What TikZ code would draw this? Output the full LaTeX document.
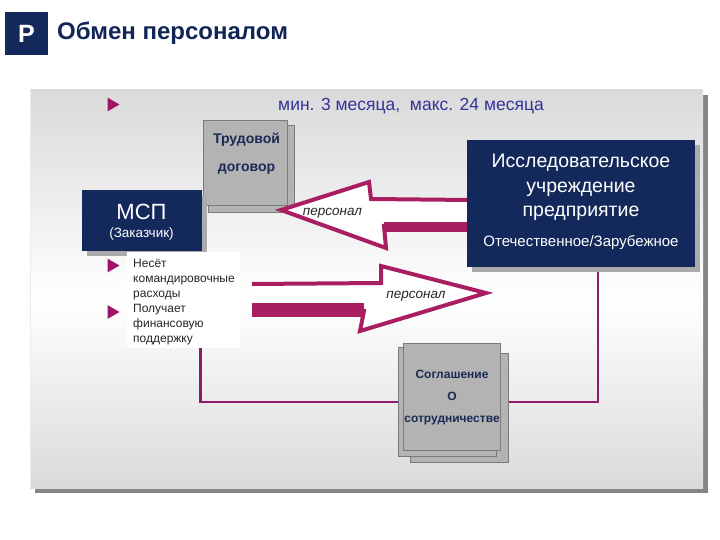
\documentclass[tikz,border=0pt]{standalone}
\usepackage{fontspec}
\setmainfont{Liberation Sans}
\usetikzlibrary{shapes.geometric, shadows, calc, positioning}
\pgfdeclarelayer{back}
\pgfdeclarelayer{links}
\pgfsetlayers{back,links,main}
\definecolor{swapnavy}{HTML}{13295B}
\definecolor{swaptitle}{HTML}{112556}
\definecolor{swapperiod}{HTML}{34339A}
\definecolor{swapmagenta}{HTML}{A81E60}
\definecolor{swapbullet}{HTML}{A01468}
\definecolor{swaplink}{HTML}{8E1A6E}
\definecolor{swapsheet}{HTML}{B3B3B3}
\definecolor{swapedge}{HTML}{7A7A7A}
\definecolor{swapdoctext}{HTML}{1B2A55}
\definecolor{swappanel}{HTML}{DADADA}
\definecolor{swapshadow}{HTML}{858585}
\definecolor{swapboxshadow}{HTML}{ABABAB}
\tikzset{navybox/.style={fill=swapnavy, inner sep=0pt, drop shadow={shadow xshift=5pt, shadow yshift=-5pt, fill=swapboxshadow, opacity=1}}}
\tikzset{sheet/.style={fill=swapsheet, draw=swapedge, line width=0.8pt, inner sep=0pt, anchor=north west}}
\tikzset{doctext/.style={anchor=base, inner sep=0pt, text=swapdoctext, font=\bfseries\fontsize{12}{12}\selectfont}}
\tikzset{whitetext/.style={anchor=base, inner sep=0pt, text=white}}
\tikzset{listtext/.style={anchor=base west, inner sep=0pt, text=black!85, font=\fontsize{12}{15}\selectfont}}
\tikzset{arrowlabel/.style={anchor=base, inner sep=0pt, text=black!85, font=\itshape\fontsize{13.5}{13.5}\selectfont}}
\tikzset{bulletmark/.style={regular polygon, regular polygon sides=3, shape border rotate=-90, fill=swapbullet, inner sep=0pt, minimum size=16pt}}
\tikzset{bigarrow/.style={draw=swapmagenta, fill=white, line width=4pt, line join=miter}}
\tikzset{linkline/.style={draw=swaplink, line width=2.2pt}}
\begin{document}
\begin{tikzpicture}[x=1pt, y=-1pt]
\useasboundingbox (0,0) rectangle (720,540);

\node[fill=swapnavy, text=white, minimum size=43pt, inner sep=0pt, font=\bfseries\fontsize{25}{25}\selectfont] (psq) at (26.5,33.5) {P};
\node[anchor=base west, inner sep=0pt, text=swaptitle, font=\bfseries\fontsize{24}{24}\selectfont] (title) at (57,39.5) {Обмен персоналом};

\begin{pgfonlayer}{back}
\fill[swapshadow] (35,95) rectangle (708,493);
\shade[top color=swappanel, bottom color=white] (30,90) rectangle (703,300);
\shade[top color=white, bottom color=swappanel] (30,299.5) rectangle (703,488);
\draw[white!92!black, line width=1pt] (30.5,90) -- (30.5,488);
\end{pgfonlayer}

\node[bulletmark] (b0) at (111.5,104.5) {};
\node[anchor=base, inner sep=0pt, text=swapperiod, font=\fontsize{17.5}{17.5}\selectfont] (period) at (411,111) {мин. 3 месяца, \ макс. 24 месяца};

\node[sheet, minimum width=86pt, minimum height=87pt] (workback) at (208,125) {};
\node[sheet, minimum width=84pt, minimum height=85pt] (work) at (203,120) {};
\node[doctext, font=\bfseries\fontsize{14}{14}\selectfont] (worktitle) at (246.5,144) {Трудовой};
\node[doctext, font=\bfseries\fontsize{14}{14}\selectfont] (workword) at (246.5,172) {договор};

\filldraw[bigarrow] (470,200) -- (371,199) -- (369,182) -- (281,210) -- (386,248) -- (384,226) -- (470,226);
\fill[swapmagenta] (384,222) rectangle (470,232);
\node[arrowlabel] (leftlabel) at (332.5,215) {персонал};

\filldraw[bigarrow] (252,284) -- (381,283) -- (381,266) -- (486,293) -- (360,331) -- (364,311) -- (252,311);
\fill[swapmagenta] (252,303) rectangle (364,317);
\node[arrowlabel] (rightlabel) at (416,298) {персонал};

\node[navybox, anchor=north west, minimum width=228pt, minimum height=127pt] (research) at (467,140) {};
\foreach \txt [count=\i] in {Исследовательское, учреждение, предприятие}
  \node[whitetext, font=\fontsize{19.5}{19.5}\selectfont] (res\i) at (581,{143.5+24.5*\i}) {\txt};
\node[whitetext, font=\fontsize{15}{15}\selectfont] (resorigin) at (581,246) {Отечественное/Зарубежное};

\node[navybox, anchor=north west, minimum width=120pt, minimum height=61pt] (msp) at (82,190) {};
\node[whitetext, font=\fontsize{22}{22}\selectfont] (mspname) at (141.5,220) {МСП};
\node[whitetext, font=\fontsize{13.5}{13.5}\selectfont] (msprole) at (141.5,237.5) {(Заказчик)};

\node[sheet, minimum width=98pt, minimum height=109pt] (agreeback) at (410,353) {};
\node[sheet, minimum width=98pt, minimum height=109pt] (agreemid) at (398,347) {};
\node[sheet, minimum width=97pt, minimum height=107pt] (agree) at (403,343) {};
\foreach \txt [count=\i] in {Соглашение, О, сотрудничестве}
  \node[doctext] (agree\i) at (452,{356+22*\i}) {\txt};

\begin{pgfonlayer}{links}
\draw[linkline] ([xshift=-2pt]msp.south east) |- (agreemid.west);
\draw[linkline] (agreeback.east |- agreemid.west) -| ([xshift=17pt]research.south);
\end{pgfonlayer}

\node[fill=white, anchor=north west, minimum width=113pt, minimum height=96pt, inner sep=0pt] (costs) at (127,252) {};
\node[bulletmark] (b1) at (111.5,265.5) {};
\node[bulletmark] (b2) at (111.5,312) {};
\foreach \txt [count=\i] in {Несёт, командировочные, расходы, Получает, финансовую, поддержку}
  \node[listtext] (cost\i) at (133,{252+15*\i}) {\txt};

\end{tikzpicture}
\end{document}
